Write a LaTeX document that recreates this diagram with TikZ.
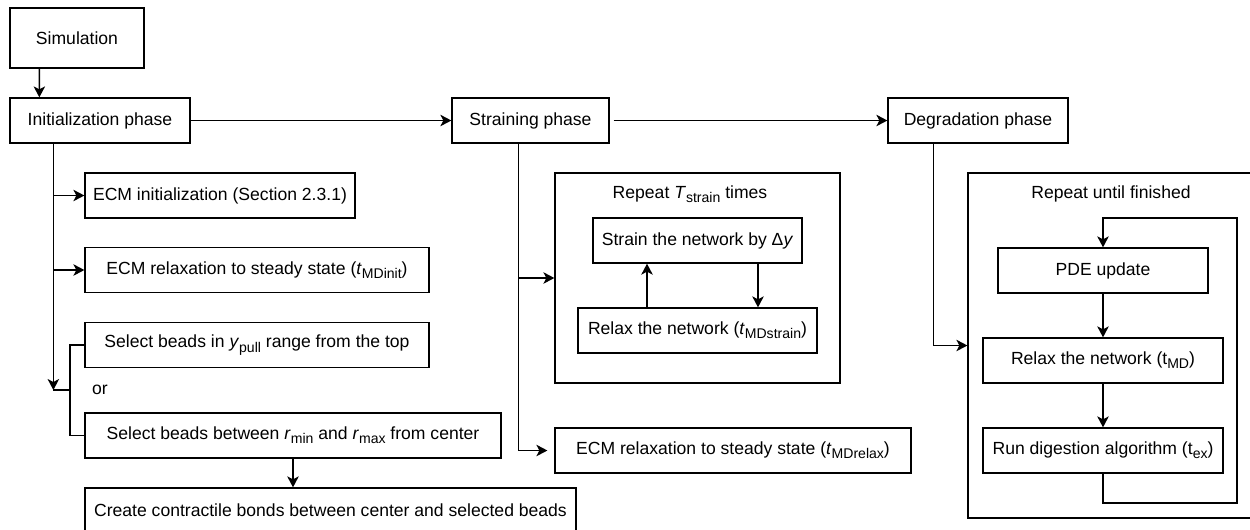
\documentclass[tikz,border=0pt]{standalone}
\usepackage{fontspec}
\setmainfont{Liberation Sans}
\usetikzlibrary{arrows.meta,calc,positioning}
\newcommand{\idx}[1]{\raisebox{-.45ex}{\fontsize{8}{9}\selectfont #1}}
\tikzset{
  block/.style={
    draw,
    line width=.75pt,
    minimum height=.9cm,
    inner xsep=2pt,
    align=center,
    font=\fontsize{10}{12}\selectfont
  },
  loopframe/.style={
    draw,
    line width=.75pt
  },
  frametitle/.style={
    inner sep=0pt,
    font=\fontsize{10}{12}\selectfont
  },
  link/.style={
    line width=.75pt
  },
  arrow/.style={
    -{Stealth[length=2.2mm,width=2.3mm,inset=.6mm]},
    line width=.75pt
  }
}

\begin{document}
\begin{tikzpicture}[x=0.02cm,y=-0.02cm]
\clip (0,0) rectangle (1250,529);
% main phases
\node[block,minimum width=2.68cm,minimum height=1.2cm] (sim) at (77,38) {Simulation};
\node[block,minimum width=3.6cm] (init) at (100,120.5) {Initialization phase};
\node[block,minimum width=3.14cm] (strain) at (530.5,120.5) {Straining phase};
\node[block,minimum width=3.6cm] (degr) at (978,120.5) {Degradation phase};
% initialization steps
\node[block,minimum width=5.4cm] (ecminit) at (220,195.5) {ECM initialization (Section 2.3.1)};
\node[block,minimum width=6.88cm] (ecmrelax) at (257,270) {ECM relaxation to steady state (\textit{t}\idx{MDinit})};
\node[block,minimum width=6.88cm] (sely) at (257,345) {Select beads in \textit{y}\idx{pull} range from the top};
\node[frametitle] (or) at (100,390) {or};
\node[block,minimum width=8.32cm] (selr) at (293,435.5) {Select beads between \textit{r}\idx{min} and \textit{r}\idx{max} from center};
\node[block,minimum width=9.82cm] (bonds) at (330.5,510.5) {Create contractile bonds between center and selected beads};
% straining loop
\node[loopframe,minimum width=5.7cm,minimum height=4.2cm] (rstrain) at (697.5,278) {};
\node[frametitle] (rstraintitle) at (690,194) {Repeat \textit{T}\idx{strain} times};
\node[block,minimum width=4.18cm] (strainnet) at (697.5,240.5) {Strain the network by Δ\textit{y}};
\node[block,minimum width=4.78cm] (relaxnet) at (697.5,330.5) {Relax the network (\textit{t}\idx{MDstrain})};
\node[block,minimum width=7.12cm] (ecmrelax2) at (733,450.5) {ECM relaxation to steady state (\textit{t}\idx{MDrelax})};
% degradation loop
\node[loopframe,minimum width=5.68cm,minimum height=6.9cm] (rdegr) at (1110,345.5) {};
\node[frametitle] (rdegrtitle) at (1111,194) {Repeat until finished};
\node[block,minimum width=4.2cm] (pde) at (1103,270.5) {PDE update};
\node[block,minimum width=4.8cm] (relaxmd) at (1103,360.5) {Relax the network (t\idx{MD})};
\node[block,minimum width=4.8cm] (digest) at (1103,450.5) {Run digestion algorithm (t\idx{ex})};

\coordinate (itrunk) at ([xshift=.88cm]init.south west);
\coordinate (orjoin) at (70,390);
\coordinate (strunk) at ([xshift=1.34cm]strain.south west);
\coordinate (dtrunk) at ([xshift=.92cm]degr.south west);
\coordinate (loopbr) at (1237,503);
\coordinate (looptr) at (1237,218);

\draw[arrow] ([xshift=.6cm]sim.south west) -- ([xshift=.6cm]init.north west);
\draw[arrow] (init) -- (strain);
\draw[arrow,shorten <=.08cm] (strain) -- (degr);
% initialization branches
\draw[arrow] (itrunk) -- (itrunk |- orjoin);
\draw[link] (itrunk |- orjoin) -- (orjoin);
\draw[arrow] (itrunk |- ecminit.west) -- (ecminit.west);
\draw[arrow] (itrunk |- ecmrelax.west) -- (ecmrelax.west);
\draw[link] (sely.west) -| (orjoin) |- (selr.west);
\draw[arrow] (selr.south) -- (selr.south |- bonds.north);
% straining branches
\draw[link] (strunk) -- (strunk |- ecmrelax2.west);
\draw[arrow] (strunk |- rstrain.west) -- (rstrain.west);
\draw[arrow,shorten >=.14cm] (strunk |- ecmrelax2.west) -- (ecmrelax2.west);
\draw[arrow] (relaxnet.north -| 647,0) -- (strainnet.south -| 647,0);
\draw[arrow] (strainnet.south -| 758,0) -- (relaxnet.north -| 758,0);
% degradation branches
\draw[arrow] (dtrunk) |- (rdegr.west);
\draw[arrow] (pde) -- (relaxmd);
\draw[arrow] (relaxmd) -- (digest);
\draw[arrow] (digest.south) |- (loopbr) -- (looptr) -| (pde.north);
\end{tikzpicture}
\end{document}
